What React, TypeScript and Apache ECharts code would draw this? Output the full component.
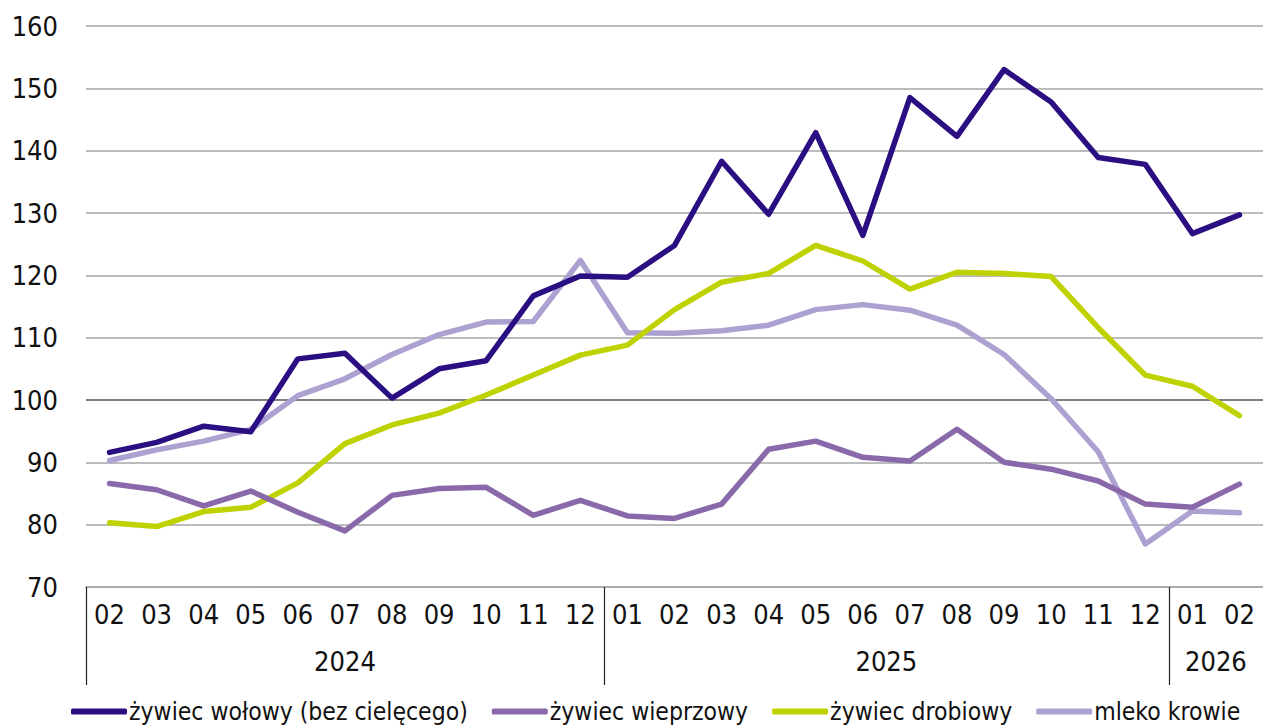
import React, { useEffect, useRef } from "react";
import * as echarts from "echarts";

const months = [
  "02", "03", "04", "05", "06", "07", "08", "09", "10", "11", "12",
  "01", "02", "03", "04", "05", "06", "07", "08", "09", "10", "11", "12",
  "01", "02",
];
const yearLabels: Record<string, string> = { "5": "2024", "16.5": "2025", "23.5": "2026" };
const yearLabelPositions = [5, 16.5, 23.5];
const yearSeparators = [-0.5, 10.5, 22.5];

const seriesNames = [
  "żywiec wołowy (bez cielęcego)",
  "żywiec wieprzowy",
  "żywiec drobiowy",
  "mleko krowie",
];

const beef = [91.6, 93.2, 95.8, 94.9, 106.6, 107.5, 100.3, 105.0, 106.3, 116.7, 119.9, 119.7, 124.8, 138.3, 129.8, 142.9, 126.4, 148.5, 142.3, 153.0, 147.8, 138.9, 137.8, 126.7, 129.7];
const pork = [86.6, 85.6, 83.0, 85.4, 82.0, 79.0, 84.7, 85.8, 86.0, 81.5, 83.9, 81.4, 81.0, 83.3, 92.1, 93.4, 90.8, 90.2, 95.3, 90.0, 88.9, 87.0, 83.3, 82.8, 86.5];
const poultry = [80.3, 79.7, 82.1, 82.8, 86.7, 93.0, 96.0, 97.9, 100.8, 104.0, 107.2, 108.8, 114.5, 118.9, 120.3, 124.8, 122.3, 117.8, 120.5, 120.3, 119.8, 111.6, 104.0, 102.2, 97.5];
const milk = [90.3, 92.0, 93.4, 95.3, 100.7, 103.4, 107.3, 110.5, 112.5, 112.6, 122.4, 110.8, 110.7, 111.1, 112.0, 114.5, 115.3, 114.4, 112.0, 107.3, 100.2, 91.7, 76.9, 82.2, 81.9];

const colors = ["#2b0f82", "#8a69ab", "#bfd200", "#ada1d1"];
const FONT = "'DejaVu Sans Condensed', 'Liberation Sans Narrow', sans-serif";

export default function App() {
  const ref = useRef<HTMLDivElement>(null);
  useEffect(() => {
    if (!ref.current) return;
    const chart = echarts.init(ref.current, undefined, { renderer: "svg" });
    const data = [beef, pork, poultry, milk];
    chart.setOption({
      animation: false,
      textStyle: { fontFamily: FONT },
      grid: { left: 86, right: -9, top: 26, bottom: 139, containLabel: false },
      legend: {
        top: 694,
        left: 66,
        itemWidth: 56,
        itemHeight: 6,
        itemGap: 24,
        icon: "roundRect",
        textStyle: { fontFamily: FONT, fontSize: 24.5, color: "#111", padding: [0, 0, 0, -3] },
        data: seriesNames,
      },
      xAxis: [
        {
          type: "category",
          data: months,
          boundaryGap: true,
          axisLine: { show: true, lineStyle: { color: "#a6a6a6", width: 1.5 } },
          axisTick: { show: false },
          axisLabel: { color: "#111", fontSize: 27, fontFamily: FONT, margin: 14, interval: 0 },
          splitLine: { show: false },
        },
        {
          type: "value",
          position: "bottom",
          min: -0.5,
          max: 24.5,
          offset: 98,
          axisLine: { show: false },
          axisTick: {
            show: true,
            inside: true,
            length: 98,
            customValues: yearSeparators,
            lineStyle: { color: "#222", width: 1.2 },
          },
          axisLabel: {
            show: true,
            inside: true,
            margin: 10,
            customValues: yearLabelPositions,
            formatter: (v: number) => yearLabels[String(v)] || "",
            color: "#111",
            fontSize: 27,
            fontFamily: FONT,
          },
          splitLine: { show: false },
        },
      ],
      yAxis: {
        type: "value",
        min: 70,
        max: 160,
        interval: 10,
        axisLine: { show: false },
        axisTick: { show: false },
        axisLabel: { color: "#111", fontSize: 27, fontFamily: FONT, margin: 28 },
        splitLine: {
          show: true,
          lineStyle: {
            color: ["#a6a6a6", "#a6a6a6", "#a6a6a6", "#555555", "#a6a6a6", "#a6a6a6", "#a6a6a6", "#a6a6a6", "#a6a6a6", "#a6a6a6"],
            width: 1.5,
          },
        },
      },
      series: seriesNames.map((name, i) => ({
        name,
        type: "line",
        xAxisIndex: 0,
        data: data[i],
        symbol: "none",
        showSymbol: false,
        color: colors[i],
        lineStyle: { color: colors[i], width: 5.5, cap: "round", join: "round" },
        z: 10 - i,
      })),
    });
    return () => chart.dispose();
  }, []);
  return (
    <div
      ref={ref}
      style={{ position: "absolute", left: 0, top: 0, width: 1263, height: 726, background: "#fff" }}
    />
  );
}
